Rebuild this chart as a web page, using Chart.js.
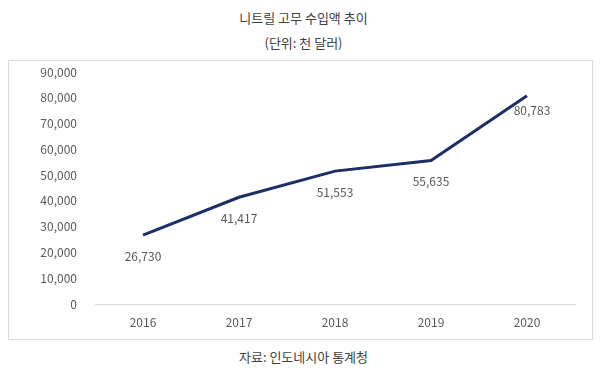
<!doctype html>
<html>
<head>
<meta charset="UTF-8">
<title>니트릴 고무 수입액 추이</title>
<script src="https://cdn.jsdelivr.net/npm/chart.js"></script>
<style>
  body { margin: 0; width: 607px; height: 378px; background: #fff; position: relative;
         font-family: "Noto Sans CJK KR", "Noto Sans", sans-serif; color: #404040; }
  .txt { position: absolute; left: 0; width: 607px; text-align: center; font-size: 13px; line-height: 16px; }
  #box { position: absolute; left: 8px; top: 60px; width: 583px; height: 278px; border: 1px solid #d9d9d9; }
</style>
</head>
<body>
<div class="txt" style="top:10px">니트릴 고무 수입액 추이</div>
<div class="txt" style="top:35px">(단위: 천 달러)</div>
<div id="box"><canvas id="chart" width="583" height="278"></canvas></div>
<div class="txt" style="top:349px">자료: 인도네시아 통계청</div>
<script>
const years = ["2016", "2017", "2018", "2019", "2020"];
const importValues = [26730, 41417, 51553, 55635, 80783];
const yTicks = [0, 10000, 20000, 30000, 40000, 50000, 60000, 70000, 80000, 90000];

const fmt = (v) => v.toLocaleString("en-US");
const tickFont = { size: 12, family: "'Noto Sans CJK KR', 'Noto Sans', sans-serif" };

// draws the value under each point (last one sits a bit closer, nudged right)
const valueLabels = {
  id: "valueLabels",
  afterDatasetsDraw(chart) {
    const ctx = chart.ctx;
    const meta = chart.getDatasetMeta(0);
    ctx.save();
    ctx.font = "12px 'Noto Sans CJK KR', 'Noto Sans', sans-serif";
    ctx.fillStyle = "#595959";
    ctx.textAlign = "center";
    ctx.textBaseline = "middle";
    meta.data.forEach((pt, i) => {
      const last = i === meta.data.length - 1;
      ctx.fillText(fmt(importValues[i]), pt.x + (last ? 5 : 0), pt.y + (last ? 15 : 21));
    });
    ctx.restore();
  },
};

new Chart("chart", {
  type: "line",
  data: {
    labels: years,
    datasets: [{
      data: importValues,
      borderColor: "#1c2f66",
      borderWidth: 3,
      pointRadius: 0,
      tension: 0,
    }],
  },
  options: {
    responsive: false,
    animation: false,
    layout: { padding: { left: 0, right: 17, top: 11, bottom: 0 } },
    plugins: { legend: { display: false }, tooltip: { enabled: false } },
    scales: {
      x: {
        offset: true,
        grid: { display: false, drawTicks: false },
        border: { display: true, color: "#d9d9d9", width: 1 },
        ticks: { padding: 11, color: "#595959", font: tickFont },
        afterFit: (s) => { s.height = 35; s.paddingLeft = 0; s.paddingRight = 0; },
      },
      y: {
        min: 0,
        max: 90000,
        afterBuildTicks: (s) => { s.ticks = yTicks.map((v) => ({ value: v })); },
        grid: { display: false, drawTicks: false },
        border: { display: false },
        ticks: { padding: 18, color: "#595959", callback: (v) => fmt(v), font: tickFont },
        afterFit: (s) => { s.width = 86; s.paddingTop = 0; s.paddingBottom = 0; },
      },
    },
  },
  plugins: [valueLabels],
});
</script>
</body>
</html>
